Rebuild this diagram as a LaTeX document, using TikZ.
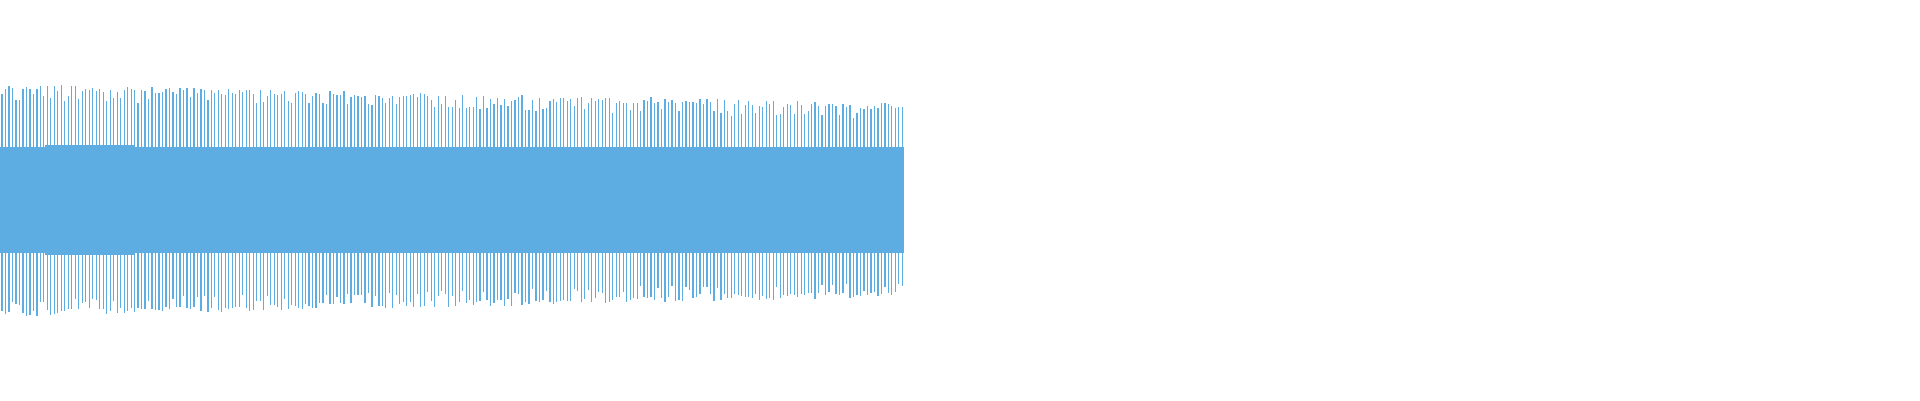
\documentclass[tikz,border=0pt]{standalone}
\definecolor{wave}{RGB}{93,173,226}
\begin{document}
\begin{tikzpicture}[x=1cm,y=1cm,spike/.style={draw=wave,line width=0.35pt}]
\useasboundingbox (0,0) rectangle (19.2,4);
\pgfmathsetseed{7}
% dense central band
\fill[wave] (0,1.47) rectangle (9.04,2.53);
\fill[wave] (0.45,1.45) rectangle (1.35,2.55);
\fill[wave] (3.0,1.47) rectangle (3.9,2.52);
% spikes
\foreach \i in {0,...,258}{
  \pgfmathsetmacro{\x}{0.02+\i*0.0349}
  \pgfmathsetmacro{\t}{3.1-0.2*\x/9+0.07*rnd-0.1*(rnd<0.25)}
  \pgfmathsetmacro{\b}{0.9+0.2*\x/9-0.07*rnd+0.1*(rnd<0.25)}
  \draw[spike] (\x,\b) -- (\x,\t);
}
\end{tikzpicture}
\end{document}
